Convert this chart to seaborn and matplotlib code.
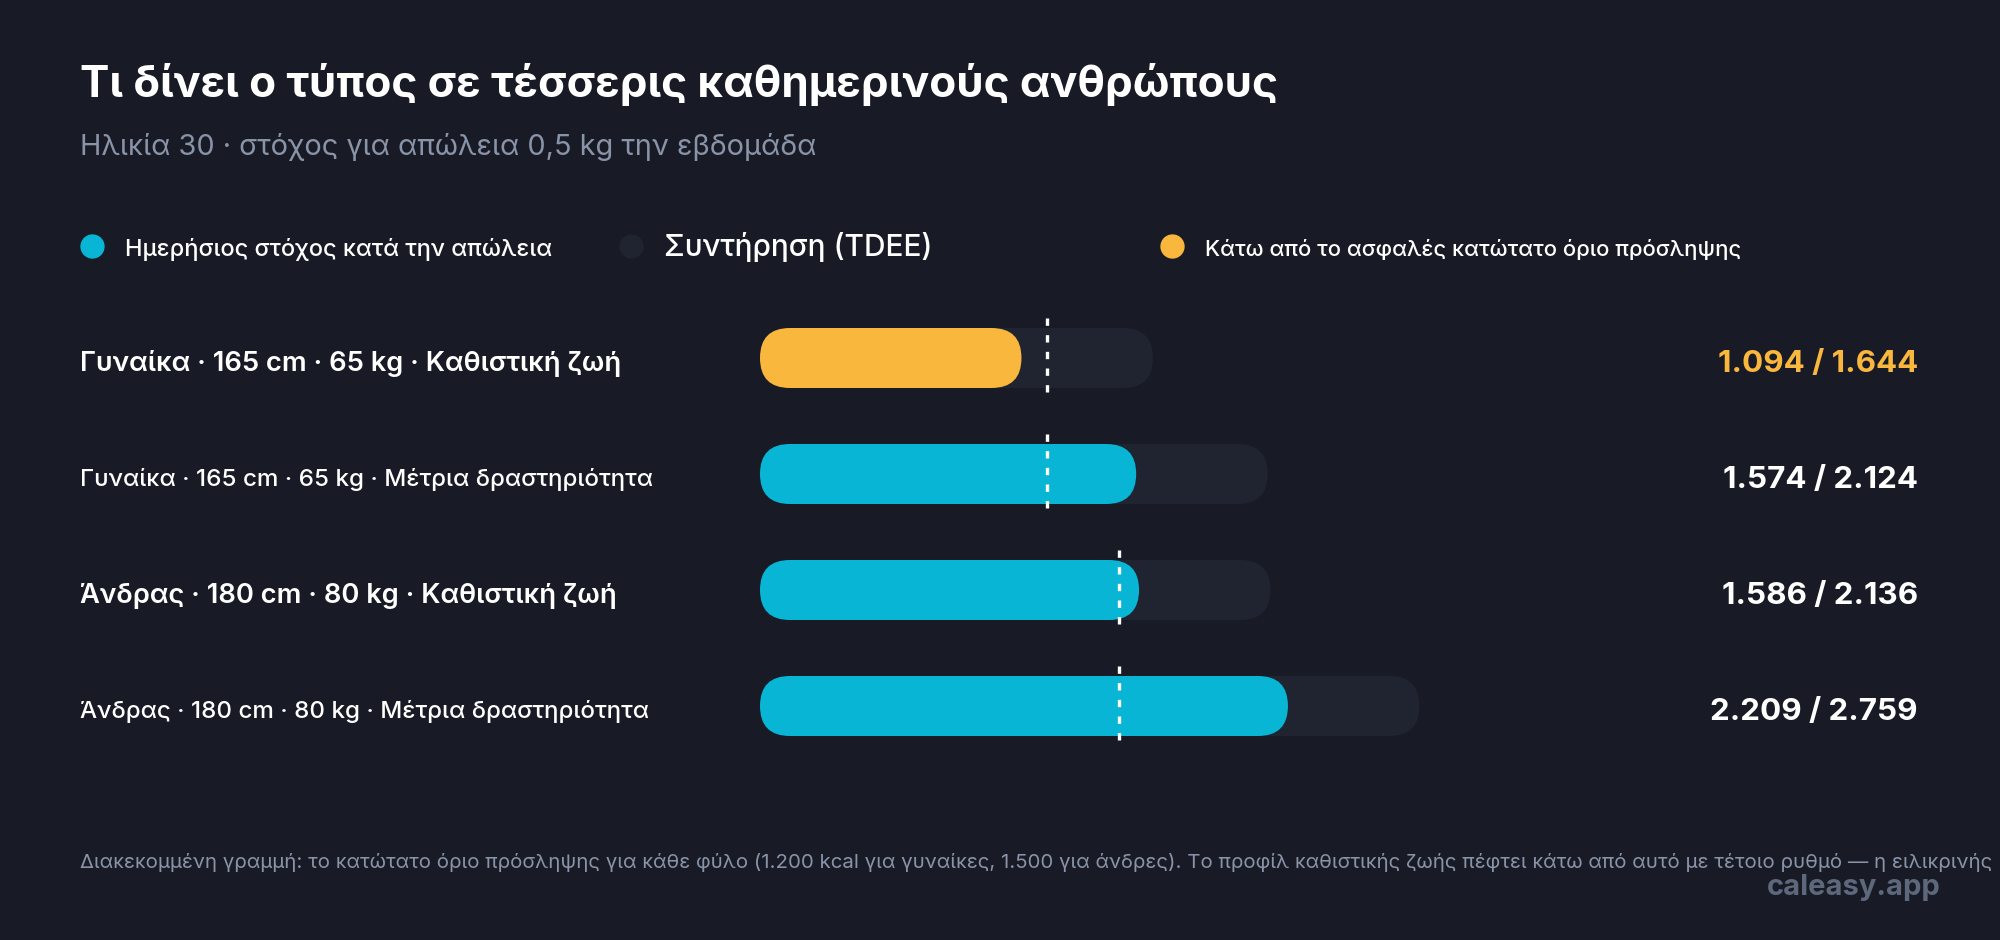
import matplotlib
matplotlib.use("Agg")
import matplotlib.pyplot as plt
import matplotlib.transforms as mtransforms
from matplotlib.patches import FancyBboxPatch
import pandas as pd
import seaborn as sns

# data
profiles = [
    "Γυναίκα · 165 cm · 65 kg · Καθιστική ζωή",
    "Γυναίκα · 165 cm · 65 kg · Μέτρια δραστηριότητα",
    "Άνδρας · 180 cm · 80 kg · Καθιστική ζωή",
    "Άνδρας · 180 cm · 80 kg · Μέτρια δραστηριότητα",
]
target_kcal = [1094, 1574, 1586, 2209]
tdee_kcal = [1644, 2124, 2136, 2759]
floor_kcal = [1200, 1200, 1500, 1500]

legend_labels = [
    "Ημερήσιος στόχος κατά την απώλεια",
    "Συντήρηση (TDEE)",
    "Κάτω από το ασφαλές κατώτατο όριο πρόσληψης",
]

BG = "#181b25"
TRACK = "#1f2430"
CYAN = "#08b5d5"
ORANGE = "#fab73e"
MUTED = "#8a94a8"
FONTS = ["Inter", "Noto Sans", "DejaVu Sans"]

df = pd.DataFrame({"profile": profiles, "target": target_kcal,
                   "tdee": tdee_kcal, "floor": floor_kcal})
df["status"] = ["below" if t < f else "ok" for t, f in zip(df.target, df.floor)]

sns.set_theme(style="dark", rc={"figure.facecolor": BG, "axes.facecolor": BG})
plt.rcParams["font.family"] = FONTS

W, H, DPI = 20, 9.4, 100
fig = plt.figure(figsize=(W, H), dpi=DPI)
# axes placed in pixels: left 760, right 1918, top 300, bottom 764
ax_l, ax_r, ax_t, ax_b = 760, 1918, 300, 764
ax = fig.add_axes([ax_l / 2000, 1 - ax_b / 940, (ax_r - ax_l) / 2000, (ax_b - ax_t) / 940])

BAR_PX = 60
ROW_PX = (ax_b - ax_t) / len(profiles)
bar_w = BAR_PX / ROW_PX

sns.barplot(data=df, y="profile", x="tdee", color=TRACK, width=bar_w,
            orient="h", ax=ax, saturation=1)
sns.barplot(data=df, y="profile", x="target", hue="status",
            palette={"ok": CYAN, "below": ORANGE}, width=bar_w, dodge=False,
            orient="h", ax=ax, saturation=1, legend=False)

xmax = (ax_r - ax_l) / 0.239
ax.set_xlim(0, xmax)
ax.set_ylim(len(profiles) - 0.5, -0.5)
ax.set_axis_off()

# rounded (pill) bars
px_per_x = (ax_r - ax_l) / xmax
px_per_y = ROW_PX
aspect = px_per_x / px_per_y
radius = (BAR_PX / 2) / px_per_x
for p in list(ax.patches):
    w = p.get_width()
    if not w or w != w:
        p.remove()
        continue
    fb = FancyBboxPatch((p.get_x(), p.get_y()), w, p.get_height(),
                        boxstyle=f"round,pad=0,rounding_size={radius}",
                        mutation_aspect=aspect, fc=p.get_facecolor(),
                        ec="none", zorder=p.get_zorder())
    p.remove()
    ax.add_patch(fb)

# dashed floor markers
for i, f in enumerate(df.floor):
    ax.vlines(f, i - 40 / ROW_PX, i + 34 / ROW_PX, colors="white", linewidth=2.4,
              linestyles=(0, (2.2, 2.8)), zorder=5)

# row labels and values
trans = mtransforms.blended_transform_factory(fig.transFigure, ax.transData)
label_style = [(19.7, "semibold"), (17.4, "medium")]
for i, row in df.iterrows():
    size, weight = label_style[i % 2]
    ax.text(0.04, i + 3 / ROW_PX, row.profile, transform=trans, fontsize=size,
            fontweight=weight, color="white", va="center_baseline", ha="left")
    val = f"{row.target:,} / {row.tdee:,}".replace(",", ".")
    ax.text(1.0, i + 3 / ROW_PX, val, transform=ax.get_yaxis_transform(),
            fontsize=22.6, fontweight="bold",
            color=ORANGE if row.status == "below" else "white",
            va="center_baseline", ha="right")

# title and subtitle
fig.text(0.04, 1 - 97 / 940, "Τι δίνει ο τύπος σε τέσσερις καθημερινούς ανθρώπους",
         fontsize=31.7, fontweight="bold", color="white", va="baseline")
fig.text(0.04, 1 - 155 / 940, "Ηλικία 30 · στόχος για απώλεια 0,5 kg την εβδομάδα",
         fontsize=20.8, color=MUTED, va="baseline")

# legend
leg_colors = [CYAN, TRACK, ORANGE]
leg_dot_x = [92, 631, 1172]
leg_sizes = [17.0, 21.5, 15.9]
for lab, c, dx, fs in zip(legend_labels, leg_colors, leg_dot_x, leg_sizes):
    fig.add_artist(plt.Line2D([dx / 2000], [1 - 246 / 940], marker="o",
                              markersize=16.5, color=c, linestyle="none",
                              transform=fig.transFigure))
    fig.text((dx + 33) / 2000, 1 - 256 / 940, lab, fontsize=fs,
             color="white", va="baseline", fontweight="medium")

# footnote (the reference cuts it at the right edge) and watermark
fig.text(0.04, 1 - 868 / 940,
         "Διακεκομμένη γραμμή: το κατώτατο όριο πρόσληψης για κάθε φύλο "
         "(1.200 kcal για γυναίκες, 1.500 για άνδρες). Το προφίλ καθιστικής ζωής "
         "πέφτει κάτω από αυτό με τέτοιο ρυθμό — η ειλικρινής",
         fontsize=14.7, color=MUTED, va="baseline")
fig.text(1941 / 2000, 1 - 895 / 940, "caleasy.app", fontsize=21,
         fontweight="bold", color="#5d687c", va="baseline", ha="right")

fig.savefig("out.png", dpi=DPI, facecolor=BG)
